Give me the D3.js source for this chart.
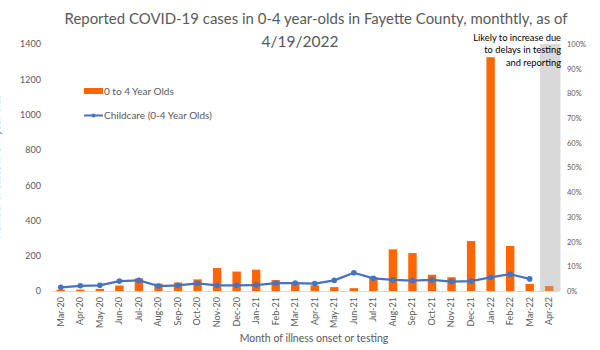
<!DOCTYPE html>
<html>
<head>
<meta charset="utf-8">
<script src="https://cdn.jsdelivr.net/npm/d3@7"></script>
<style>
  body { margin: 0; background: #fff; }
  text { font-family: Lato, "Open Sans", sans-serif; }
</style>
</head>
<body>
<div id="chart"></div>
<script>
// months on the x axis
const months = ["Mar-20","Apr-20","May-20","Jun-20","Jul-20","Aug-20","Sep-20","Oct-20","Nov-20","Dec-20",
  "Jan-21","Feb-21","Mar-21","Apr-21","May-21","Jun-21","Jul-21","Aug-21","Sep-21","Oct-21","Nov-21","Dec-21",
  "Jan-22","Feb-22","Mar-22","Apr-22"];
// 0 to 4 year olds, case counts
const cases = [8, 8, 12, 31, 72, 42, 48, 66, 130, 110, 121, 62, 40, 32, 22, 16, 78, 236, 215, 92, 78, 283, 1325, 255, 40, 28];
// childcare share (percent), no value for Apr-22
const childcare = [1.5, 2.1, 2.3, 4.0, 4.3, 2.0, 2.3, 3.1, 2.3, 2.3, 2.4, 3.2, 3.2, 3.0, 4.3, 7.4, 5.1, 4.5, 4.2, 4.5, 3.8, 4.0, 5.5, 6.8, 4.9, null];
const leftTicks = [0, 200, 400, 600, 800, 1000, 1200, 1400];
const rightTicks = [0, 10, 20, 30, 40, 50, 60, 70, 80, 90, 100];

const width = 600, height = 350;
const margin = { top: 44, right: 41, bottom: 59, left: 51 };

const svg = d3.select("#chart").append("svg")
  .attr("width", width)
  .attr("height", height);

const x = d3.scaleBand()
  .domain(months)
  .range([margin.left, width - margin.right])
  .paddingInner(0.57)
  .paddingOuter(0.285);

const y = d3.scaleLinear()
  .domain([0, 1400])
  .range([height - margin.bottom, margin.top]);

const y2 = d3.scaleLinear()
  .domain([0, 100])
  .range([height - margin.bottom, margin.top]);

// shaded incomplete month
const step = x.step();
svg.append("rect")
  .attr("x", x("Apr-22") + x.bandwidth() / 2 - step / 2 + 0.5)
  .attr("y", margin.top)
  .attr("width", step + 1)
  .attr("height", height - margin.bottom - margin.top)
  .attr("fill", "#d9d9d9");

// title
svg.append("text")
  .attr("x", 316).attr("y", 24)
  .attr("text-anchor", "middle")
  .attr("fill", "#595959")
  .attr("textLength", 503)
  .attr("lengthAdjust", "spacingAndGlyphs")
  .style("font-size", "15.5px")
  .text("Reported COVID-19 cases in 0-4 year-olds in Fayette County, monthtly, as of");
svg.append("text")
  .attr("x", 300).attr("y", 47)
  .attr("text-anchor", "middle")
  .attr("fill", "#595959")
  .style("font-size", "15.5px")
  .text("4/19/2022");

// left axis
const yAxis = svg.append("g")
  .attr("transform", `translate(${margin.left},0)`)
  .call(d3.axisLeft(y).tickValues(leftTicks).tickFormat(d3.format("d")).tickSize(0).tickPadding(10));
yAxis.select(".domain").remove();
yAxis.selectAll("text").attr("fill", "#595959").style("font-size", "9px");

// right axis
const y2Axis = svg.append("g")
  .attr("transform", `translate(${width - margin.right},0)`)
  .call(d3.axisRight(y2).tickValues(rightTicks).tickFormat(d => d + "%").tickSize(0).tickPadding(8));
y2Axis.select(".domain").remove();
y2Axis.selectAll("text").attr("fill", "#595959").style("font-size", "7.5px");

// bars
svg.append("g")
  .selectAll("rect")
  .data(months)
  .join("rect")
    .attr("x", d => x(d))
    .attr("y", (d, i) => y(cases[i]))
    .attr("width", x.bandwidth())
    .attr("height", (d, i) => y(0) - y(cases[i]))
    .attr("fill", d => d === "Apr-22" ? "#e0823f" : "#ff6600");

// x axis
const xAxis = svg.append("g")
  .attr("transform", `translate(0,${height - margin.bottom})`)
  .call(d3.axisBottom(x).tickSize(0).tickPadding(6));
xAxis.select(".domain").attr("stroke", "#d9d9d9");
xAxis.selectAll("text")
  .attr("fill", "#595959")
  .style("font-size", "9px")
  .attr("text-anchor", "end")
  .attr("transform", "rotate(-90)")
  .attr("x", -6)
  .attr("y", 0)
  .attr("dy", "0.32em");

// childcare line
const pts = months.map((m, i) => ({ m, v: childcare[i] })).filter(d => d.v != null);
const line = d3.line()
  .x(d => x(d.m) + x.bandwidth() / 2)
  .y(d => y2(d.v));
svg.append("path")
  .datum(pts)
  .attr("fill", "none")
  .attr("stroke", "#4472c4")
  .attr("stroke-width", 2.2)
  .attr("stroke-linejoin", "round")
  .attr("d", line);
svg.append("g")
  .selectAll("circle")
  .data(pts)
  .join("circle")
    .attr("cx", d => x(d.m) + x.bandwidth() / 2)
    .attr("cy", d => y2(d.v))
    .attr("r", 2.8)
    .attr("fill", "#4472c4");

// annotation
const note = ["Likely to increase due", "to delays in testing", "and reporting"];
svg.append("g")
  .selectAll("text")
  .data(note)
  .join("text")
    .attr("x", 561)
    .attr("y", (d, i) => 41 + i * 12.3)
    .attr("text-anchor", "end")
    .attr("fill", "#000")
    .style("font-size", "9.3px")
    .text(d => d);

// legend
const legend = svg.append("g").attr("transform", "translate(84,0)");
legend.append("rect")
  .attr("x", 0).attr("y", 88)
  .attr("width", 19).attr("height", 6)
  .attr("fill", "#ff6600");
legend.append("text")
  .attr("x", 20).attr("y", 95)
  .attr("fill", "#595959")
  .style("font-size", "10px")
  .text("0 to 4 Year Olds");
legend.append("line")
  .attr("x1", 0).attr("x2", 19)
  .attr("y1", 115.5).attr("y2", 115.5)
  .attr("stroke", "#4472c4").attr("stroke-width", 2);
legend.append("circle")
  .attr("cx", 9.5).attr("cy", 115.5).attr("r", 2)
  .attr("fill", "#4472c4");
legend.append("text")
  .attr("x", 20).attr("y", 119)
  .attr("fill", "#595959")
  .style("font-size", "10px")
  .text("Childcare (0-4 Year Olds)");

// axis titles
svg.append("text")
  .attr("x", 314).attr("y", 342)
  .attr("text-anchor", "middle")
  .attr("fill", "#595959")
  .style("font-size", "10.5px")
  .text("Month of illness onset or testing");

// y title sits mostly off the left edge, as in the original
svg.append("text")
  .attr("transform", "rotate(-90)")
  .attr("x", -167).attr("y", 0)
  .attr("text-anchor", "middle")
  .attr("fill", "#595959")
  .style("font-size", "10px")
  .text("Number of cases in 0-4 year-olds");
</script>
</body>
</html>
